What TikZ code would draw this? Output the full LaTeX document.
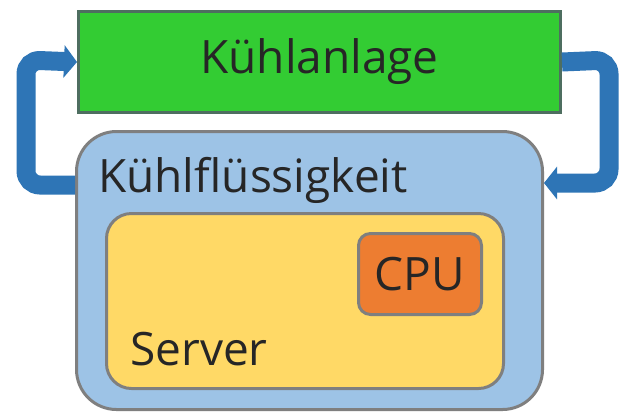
\documentclass[tikz,border=0pt]{standalone}
\usepackage{fontspec}
\setmainfont{Open Sans}
\usetikzlibrary{arrows.meta}
\definecolor{anlagegreen}{HTML}{33CC33}
\definecolor{anlageedge}{HTML}{4E6E60}
\definecolor{fluidblue}{HTML}{9DC3E6}
\definecolor{boxedge}{HTML}{7F7F7F}
\definecolor{serveryellow}{HTML}{FFD966}
\definecolor{cpuorange}{HTML}{ED7D31}
\definecolor{flowblue}{HTML}{2E75B6}
\tikzset{
  boxbase/.style={draw=boxedge, line width=3pt, inner sep=0pt, anchor=north west},
  bigtext/.style={font=\fontsize{46}{46}\selectfont, text=black!85},
  flow/.style={draw=flowblue, line width=19pt, rounded corners=14pt,
    -{Triangle[width=32pt,length=13pt]}},
  lbl/.style={bigtext, inner sep=0pt, anchor=base west}
}
\begin{document}
\begin{tikzpicture}[x=1pt,y=-1pt]
\useasboundingbox (0,0) rectangle (620,416);
\fill[white] (0,0) rectangle (620,416);
\node[boxbase, draw=anlageedge, fill=anlagegreen, minimum width=482pt, minimum height=101pt, bigtext] (anlage) at (77,10) {Kühlanlage};
\node[boxbase, fill=fluidblue, rounded corners=40pt, minimum width=466pt, minimum height=278pt] (fluid) at (75,130) {};
\draw[flow] (fluid.west |- 0,185) -- (26,185) -- (26,60) -- (anlage.west);
\draw[flow] (anlage.east) -- (609,60) -- (609,183) -- (fluid.east |- 0,183);
\node[lbl] (fluidlbl) at (98,192) {Kühlflüssigkeit};
\node[boxbase, fill=serveryellow, rounded corners=25pt, minimum width=397pt, minimum height=175pt] (server) at (105,212) {};
\node[lbl] (serverlbl) at (130,365) {Server};
\node[boxbase, fill=cpuorange, rounded corners=12pt, minimum width=123pt, minimum height=81pt, bigtext] (cpu) at (357,232) {CPU};
\end{tikzpicture}
\end{document}
